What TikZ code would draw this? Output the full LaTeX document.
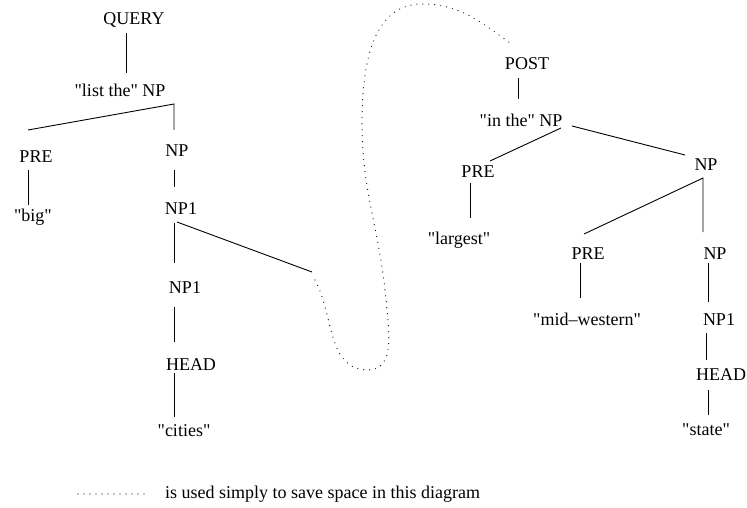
\documentclass[tikz,border=0pt]{standalone}
\usepackage{fontspec}
\setmainfont{Liberation Serif}
\newcommand{\qq}{\textquotedbl}

\begin{document}
\begin{tikzpicture}[x=1pt, y=-1pt,
    word/.style={anchor=base, inner sep=0pt, font=\fontsize{18}{22}\selectfont},
    branch/.style={line width=0.9pt, line cap=butt},
    elision/.style={line width=1.2pt, line cap=round, dash pattern=on 0pt off 6pt}]
  \useasboundingbox (0,0) rectangle (747,508);

  % left tree: the main query
  \node[word] (query)   at (134,25)  {QUERY};
  \node[word] (listthe) at (120,97)  {\qq list the\qq{} NP};
  \node[word] (preA)    at (36,162)  {PRE};
  \node[word] (big)     at (33,221)  {\qq big\qq};
  \node[word] (npA)     at (177,157) {NP};
  \node[word] (npxA)    at (181,214) {NP1};
  \node[word] (npxB)    at (185,293) {NP1};
  \node[word] (headA)   at (191,370) {HEAD};
  \node[word] (cities)  at (184,436) {\qq cities\qq};
  \coordinate (cut) at (312,272);

  % right tree: the postmodifier, moved up to save space
  \node[word] (post)    at (527,70)  {POST};
  \node[word] (inthe)   at (521,127) {\qq in the\qq{} NP};
  \node[word] (preB)    at (478,178) {PRE};
  \node[word] (largest) at (459,244) {\qq largest\qq};
  \node[word] (npB)     at (706,171) {NP};
  \node[word] (preC)    at (588,259) {PRE};
  \node[word] (midwest) at (587,325) {\qq mid–western\qq};
  \node[word] (npC)     at (715,259) {NP};
  \node[word] (npxC)    at (719,325) {NP1};
  \node[word] (headC)   at (721,380) {HEAD};
  \node[word] (state)   at (706,435) {\qq state\qq};

  \node[word, anchor=base west] (note) at (165,498) {is used simply to save space in this diagram};

  \draw[branch] ([shift={(-8,8)}]query.base) -- ([shift={(6,-24)}]listthe.base);
  \draw[branch] ([shift={(-8,-32)}]preA.base) -- ([shift={(54,7)}]listthe.base)
                                              -- ([shift={(-3,-27)}]npA.base);
  \draw[branch] ([shift={(-8,8)}]preA.base) -- ([shift={(-5,-16)}]big.base);
  \draw[branch] ([shift={(-3,13)}]npA.base) -- ([shift={(-7,-27)}]npxA.base);
  \draw[branch] ([shift={(-7,9)}]npxA.base) -- ([shift={(-11,-30)}]npxB.base);
  \draw[branch] ([shift={(-4,8)}]npxA.base) -- (cut);
  \draw[branch] ([shift={(-11,14)}]npxB.base) -- ([shift={(-17,-28)}]headA.base);
  \draw[branch] ([shift={(-17,3)}]headA.base) -- ([shift={(-10,-19)}]cities.base);

  \draw[branch] ([shift={(-9,8)}]post.base) -- ([shift={(-3,-28)}]inthe.base);
  \draw[branch] ([shift={(40,1)}]inthe.base) -- ([shift={(12,-17)}]preB.base);
  \draw[branch] ([shift={(51,-1)}]inthe.base) -- ([shift={(-21,-16)}]npB.base);
  \draw[branch] ([shift={(-8,5)}]preB.base) -- ([shift={(11,-26)}]largest.base);
  \draw[branch] ([shift={(-4,-25)}]preC.base) -- ([shift={(-3,7)}]npB.base)
                                              -- ([shift={(-12,-27)}]npC.base);
  \draw[branch] ([shift={(-8,4)}]preC.base) -- ([shift={(-7,-27)}]midwest.base);
  \draw[branch] ([shift={(-7,4)}]npC.base) -- ([shift={(-11,-23)}]npxC.base);
  \draw[branch] ([shift={(-13,8)}]npxC.base) -- ([shift={(-15,-20)}]headC.base);
  \draw[branch] ([shift={(-13,10)}]headC.base) -- ([shift={(2,-20)}]state.base);

  % the dotted loop joins the cut branch of the left tree to POST
  \draw[elision] ([shift={(3,8)}]cut) to[out=-62, in=180] (368,370)
                 to[out=0, in=-85] (386,300)
                 to[out=95, in=-90] (362,123)
                 to[out=90, in=180] (422,4)
                 to[out=0, in=145] ([shift={(-14,-25)}]post.base);
  \draw[elision] (note.base west) ++(-87,-4) -- ++(67,0);
\end{tikzpicture}
\end{document}
